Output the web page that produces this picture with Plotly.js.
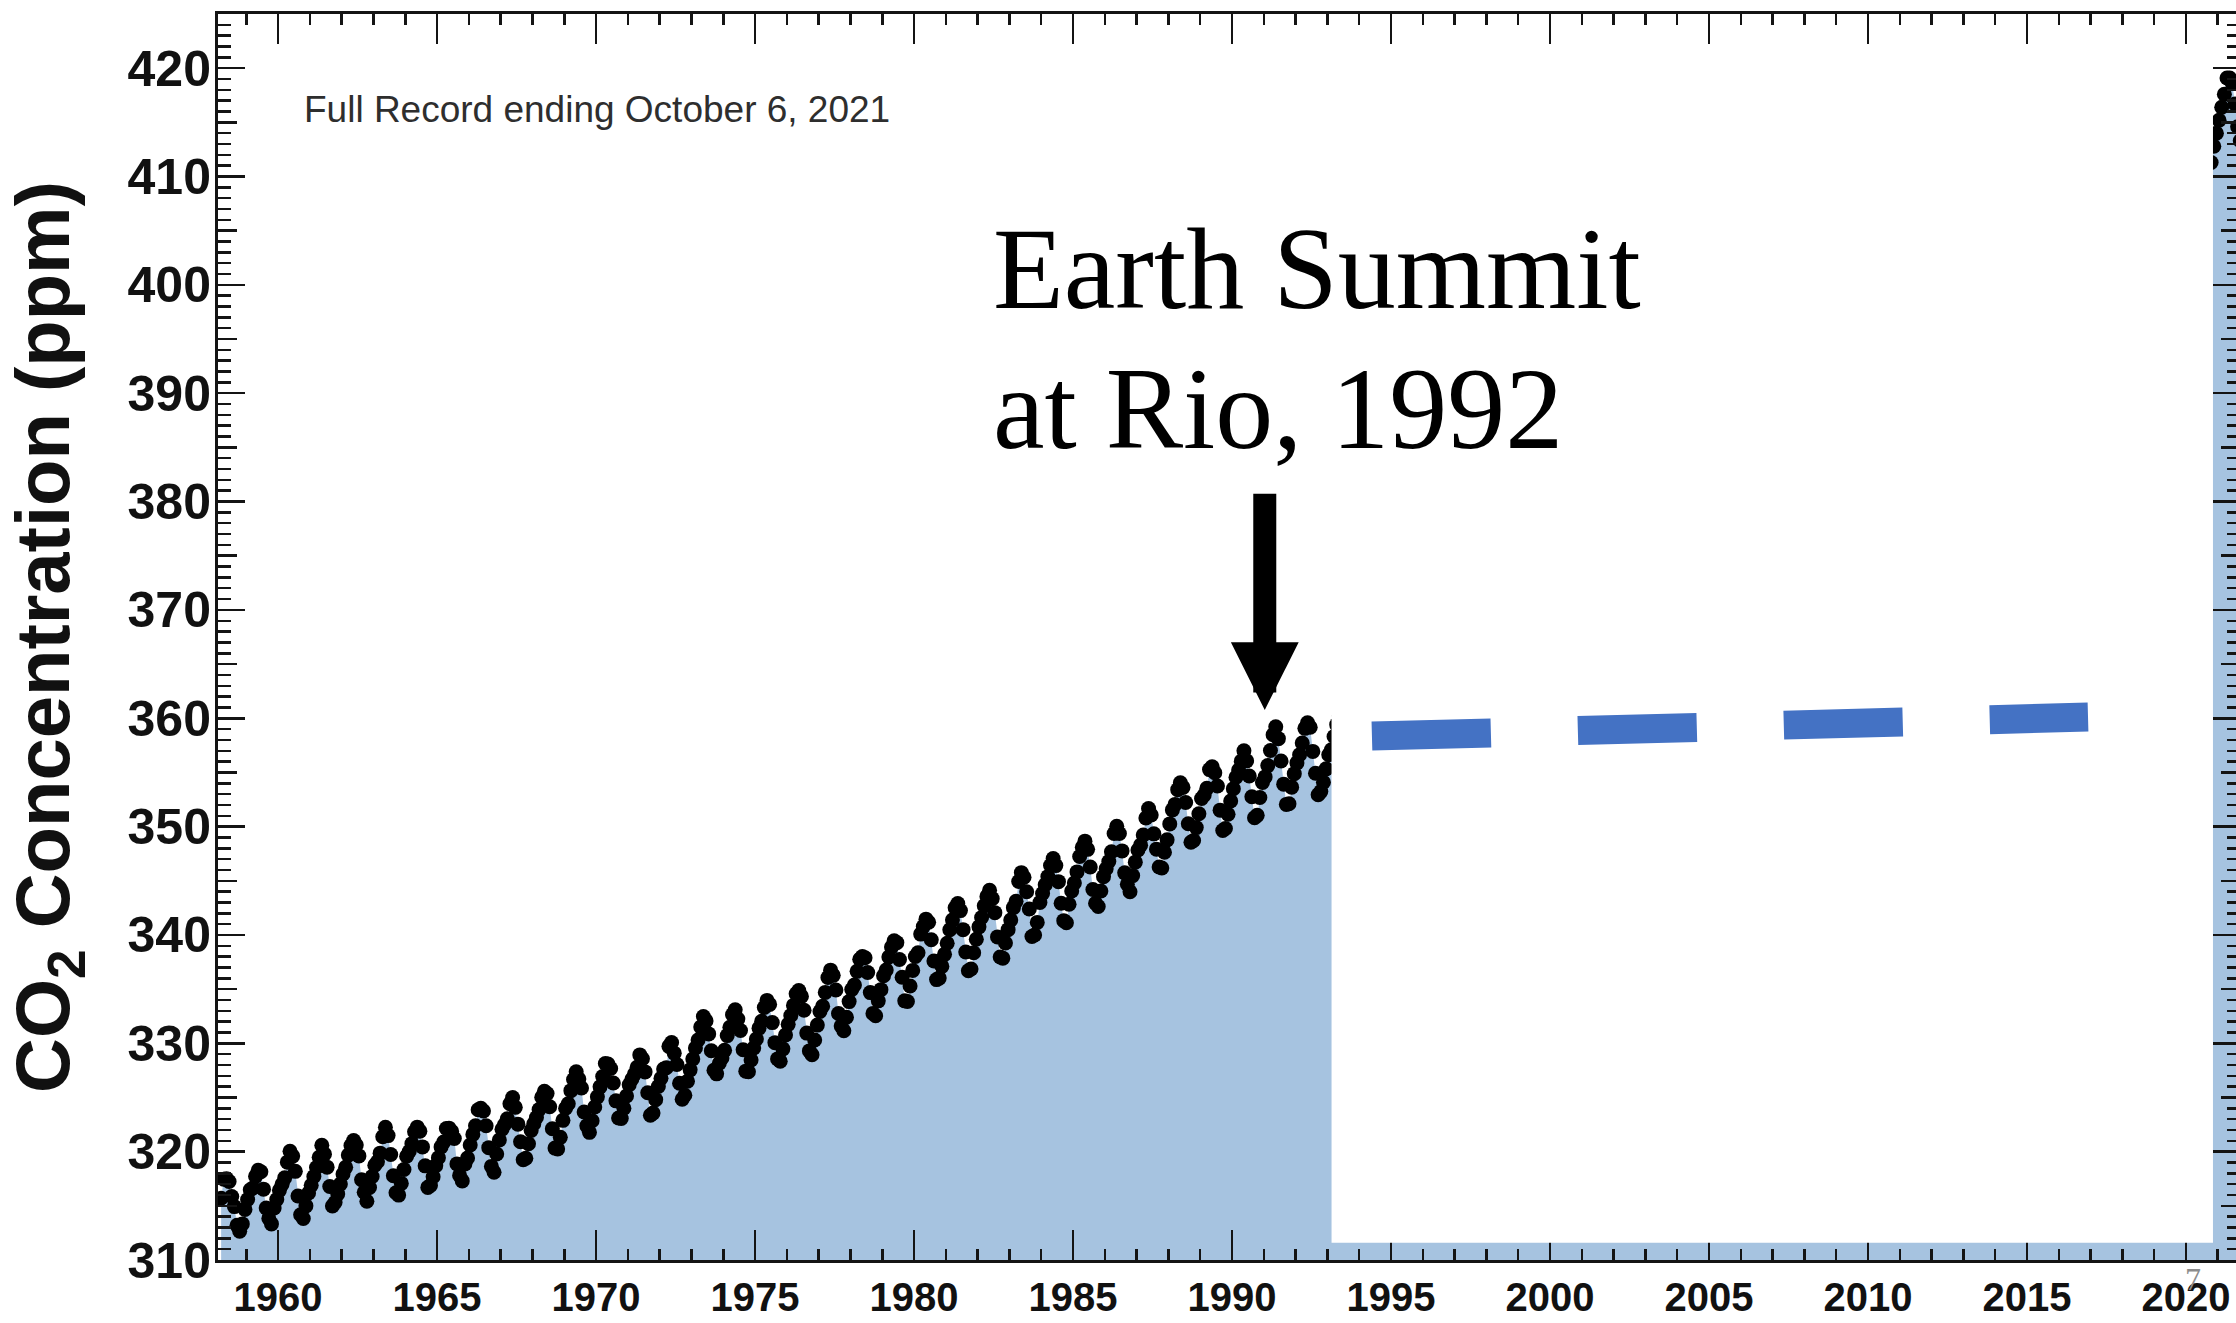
<!DOCTYPE html>
<html>
<head>
<meta charset="utf-8">
<script src="https://cdn.plot.ly/plotly-3.0.1.min.js"></script>
<style>
  html, body { margin: 0; padding: 0; background: #ffffff; overflow: hidden; width: 2236px; height: 1323px; }
  #chart { position: absolute; left: 0; top: 0; }
</style>
</head>
<body>
<div id="chart"></div>
<script>
// ---------------- DATA (Mauna Loa monthly CO2, ppm) ----------------
// visible record: March 1958 -> June 1993 (monthly)
const co2_1958_1969 = [
  315.70, 317.45, 317.51, 317.24, 315.86, 314.93, 313.20, 312.66, 313.33, 314.67,
  315.58, 316.48, 316.65, 317.72, 318.29, 318.15, 316.54, 314.80, 313.84, 313.33, 314.81, 315.58,
  316.43, 316.98, 317.58, 319.03, 320.04, 319.59, 318.18, 315.90, 314.17, 313.83, 315.00, 316.19,
  316.89, 317.70, 318.54, 319.48, 320.58, 319.77, 318.57, 316.79, 314.99, 315.31, 316.10, 317.01,
  317.94, 318.55, 319.68, 320.57, 321.02, 320.62, 319.61, 317.40, 316.25, 315.42, 316.69, 317.70,
  318.74, 319.07, 319.86, 321.38, 322.25, 321.48, 319.74, 317.77, 316.21, 315.99, 317.07, 318.35,
  319.57, 320.01, 320.74, 321.84, 322.26, 321.89, 320.44, 318.69, 316.70, 316.87, 317.68, 318.71,
  319.44, 320.44, 320.89, 322.14, 322.17, 321.87, 321.21, 318.87, 317.81, 317.30, 318.87, 319.42,
  320.62, 321.59, 322.39, 323.87, 324.01, 323.75, 322.39, 320.37, 318.64, 318.10, 319.79, 321.08,
  322.07, 322.50, 323.04, 324.42, 325.00, 324.09, 322.54, 320.92, 319.25, 319.39, 320.73, 321.96,
  322.57, 323.15, 323.89, 325.02, 325.57, 325.36, 324.14, 322.11, 320.33, 320.25, 321.32, 322.89,
  324.00, 324.42, 325.63, 326.66, 327.38, 326.71, 325.88, 323.66, 322.38, 321.78, 322.85, 324.12
];
const co2_1970_1979 = [
  325.06, 325.98, 326.93, 328.13, 328.08, 327.67, 326.34, 324.69, 323.10, 323.06, 324.01, 325.13,
  326.17, 326.68, 327.17, 327.79, 328.93, 328.57, 327.36, 325.43, 323.36, 323.56, 324.80, 326.01,
  326.77, 327.63, 327.75, 329.72, 330.07, 329.09, 328.04, 326.32, 324.84, 325.20, 326.50, 327.55,
  328.55, 329.56, 330.30, 331.50, 332.48, 332.07, 330.87, 329.31, 327.51, 327.18, 328.16, 328.64,
  329.35, 330.71, 331.48, 332.65, 333.09, 332.25, 331.18, 329.40, 327.43, 327.37, 328.46, 329.57,
  330.40, 331.40, 332.04, 333.31, 333.96, 333.59, 331.91, 330.06, 328.56, 328.34, 329.49, 330.76,
  331.75, 332.56, 333.50, 334.58, 334.88, 334.33, 333.05, 330.94, 329.30, 328.94, 330.31, 331.68,
  332.93, 333.42, 334.70, 336.07, 336.75, 336.27, 334.92, 332.75, 331.59, 331.16, 332.40, 333.85,
  334.97, 335.38, 336.64, 337.76, 338.01, 337.89, 336.54, 334.68, 332.76, 332.55, 333.92, 334.95,
  336.23, 336.76, 337.96, 338.88, 339.47, 339.29, 337.73, 336.09, 333.92, 333.86, 335.29, 336.73
];
const co2_1980_1989 = [
  338.01, 338.36, 340.08, 340.77, 341.46, 341.17, 339.56, 337.60, 335.88, 336.02, 337.10, 338.21,
  339.24, 340.48, 341.38, 342.51, 342.91, 342.25, 340.49, 338.43, 336.69, 336.86, 338.36, 339.61,
  340.75, 341.61, 342.70, 343.56, 344.13, 343.35, 342.06, 339.82, 337.97, 337.86, 339.26, 340.49,
  341.38, 342.52, 343.10, 344.94, 345.75, 345.32, 343.99, 342.39, 339.86, 339.99, 341.16, 342.99,
  343.82, 344.63, 345.38, 346.41, 347.06, 346.40, 344.92, 342.93, 341.32, 341.12, 342.83, 344.06,
  344.80, 345.82, 347.24, 348.09, 348.66, 347.90, 346.27, 344.19, 342.92, 342.62, 344.06, 345.38,
  346.11, 346.78, 347.68, 349.37, 350.03, 349.37, 347.76, 345.73, 344.68, 343.99, 345.48, 346.72,
  347.84, 348.29, 349.23, 350.80, 351.66, 351.07, 349.33, 347.92, 346.27, 346.18, 347.64, 348.78,
  350.25, 351.54, 352.05, 353.41, 354.04, 353.62, 352.22, 350.27, 348.55, 348.72, 349.91, 351.18,
  352.60, 352.92, 353.53, 355.26, 355.52, 354.97, 353.75, 351.52, 349.64, 349.83, 351.14, 352.37
];
const co2_1990_1993 = [
  353.50, 354.55, 355.23, 356.04, 357.00, 356.07, 354.67, 352.76, 350.82, 351.04, 352.69, 354.07,
  354.59, 355.63, 357.03, 358.48, 359.22, 358.12, 356.06, 353.92, 352.05, 352.11, 353.64, 354.89,
  355.88, 356.63, 357.72, 359.07, 359.58, 359.17, 356.94, 354.92, 352.94, 353.23, 354.09, 355.33,
  356.63, 357.10, 358.32, 359.41, 360.23, 359.55
];
// record hidden behind the white panel (annual means, 1994 -> 2019)
const hiddenYears = [1994, 1995, 1996, 1997, 1998, 1999, 2000, 2001, 2002, 2003, 2004, 2005, 2006,
                     2007, 2008, 2009, 2010, 2011, 2012, 2013, 2014, 2015, 2016, 2017, 2018, 2019];
const co2Hidden = [358.96, 360.97, 362.74, 363.88, 366.84, 368.54, 369.71, 371.32, 373.45, 375.98,
                   377.70, 379.98, 382.09, 384.02, 385.83, 387.64, 390.10, 391.85, 394.06, 396.74,
                   398.81, 401.01, 404.41, 406.76, 408.72, 411.66];
// right-hand sliver: July 2020 -> September 2021 (monthly)
const co2_2020_2021 = [414.4, 412.5, 411.3, 411.3, 412.8, 414.0,
                       415.2, 416.4, 417.6, 419.1, 419.1, 418.6, 416.7, 414.6, 413.3];

// "Rio" projection (blue dashed line)
const projYears = [1994.40, 2016.92];
const projCO2 = [358.36, 360.11];

// panel that blanks 1993-2020
const panelYears = [1993.13, 2020.85];
const panelCO2 = [311.6, 421.5];

// arrow: tip and tail
const arrowYear = 1991.03;
const arrowTipCO2 = 360.76;
const arrowTailCO2 = 380.87;

const yTickVals = [310, 320, 330, 340, 350, 360, 370, 380, 390, 400, 410, 420];
const yMidTickVals = [315, 325, 335, 345, 355, 365, 375, 385, 395, 405, 415];
const xTickVals = [1960, 1965, 1970, 1975, 1980, 1985, 1990, 1995, 2000, 2005, 2010, 2015, 2020];

// ---------------- helpers: month index -> decimal year ----------------
function monthlyX(startYear, startMonth, count) {
  const xs = [];
  for (let i = 0; i < count; i++) {
    const m = startMonth - 1 + i;
    xs.push(startYear + Math.floor(m / 12) + ((m % 12) + 0.5) / 12);
  }
  return xs;
}

const earlyY = [].concat(co2_1958_1969, co2_1970_1979, co2_1980_1989, co2_1990_1993);
const earlyX = monthlyX(1958, 3, earlyY.length);
const lateY = co2_2020_2021;
const lateX = monthlyX(2020, 7, lateY.length);
const hiddenX = hiddenYears.map(y => y + 0.5);

const fillX = [].concat(earlyX, hiddenX, lateX);
const fillY = [].concat(earlyY, co2Hidden, lateY);

const AXIS = '#141414';
const tickFontFamily = '"Liberation Sans", Arial, sans-serif';

const traces = [
  { // light blue area under the record
    x: fillX, y: fillY, type: 'scatter', mode: 'lines',
    line: { width: 0, color: '#A6C3E0' },
    fill: 'tozeroy', fillcolor: '#A6C3E0', hoverinfo: 'skip'
  },
  { // monthly dots
    x: earlyX.concat([null], lateX), y: earlyY.concat([null], lateY),
    type: 'scatter', mode: 'markers',
    marker: { size: 15, color: '#000000', line: { width: 0 } }
  },
  { // carrier for the 5-ppm intermediate tick axis (draws nothing)
    x: [], y: [], type: 'scatter', mode: 'markers', yaxis: 'y2', hoverinfo: 'skip'
  }
];

const layout = {
  width: 2245, height: 1323,
  margin: { l: 218, r: 5, t: 14, b: 63, pad: 0 },
  paper_bgcolor: '#ffffff', plot_bgcolor: '#ffffff',
  showlegend: false,
  font: { family: '"Liberation Sans", Arial, sans-serif', color: '#111111' },
  xaxis: {
    range: [1958.11, 2021.7],
    tickmode: 'array', tickvals: xTickVals, ticktext: xTickVals.map(String),
    ticks: 'inside', ticklen: 30, tickwidth: 2.5, tickcolor: AXIS,
    minor: { dtick: 1, tick0: 1960, ticks: 'inside', ticklen: 11, tickwidth: 2.5, tickcolor: AXIS, showgrid: false },
    showline: true, linewidth: 3, linecolor: AXIS, mirror: 'ticks',
    showgrid: false, zeroline: false,
    tickfont: { family: tickFontFamily, size: 40, weight: 'bold', color: '#111111' }
  },
  yaxis: {
    range: [310, 425],
    tickmode: 'array', tickvals: yTickVals, ticktext: yTickVals.map(String),
    ticks: 'inside', ticklen: 27, tickwidth: 2.5, tickcolor: AXIS,
    minor: { dtick: 1, tick0: 310, ticks: 'inside', ticklen: 13, tickwidth: 2.5, tickcolor: AXIS, showgrid: false },
    showline: true, linewidth: 3, linecolor: AXIS, mirror: 'ticks',
    showgrid: false, zeroline: false,
    ticklabelstandoff: -6,
    tickfont: { family: tickFontFamily, size: 50, weight: 'bold', color: '#111111' },
    title: {
      text: 'CO<sub>2</sub> Concentration (ppm)',
      font: { family: '"Liberation Sans", Arial, sans-serif', size: 76, weight: 'bold', color: '#111111' }
    }
  },
  yaxis2: {
    overlaying: 'y', side: 'left', range: [310, 425],
    tickmode: 'array', tickvals: yMidTickVals,
    ticks: 'inside', ticklen: 19, tickwidth: 2.5, tickcolor: AXIS,
    showticklabels: false, showline: false, mirror: 'ticks',
    showgrid: false, zeroline: false
  },
  shapes: [
    { type: 'rect', xref: 'x', yref: 'y', layer: 'above',
      x0: panelYears[0], x1: panelYears[1], y0: panelCO2[0], y1: panelCO2[1],
      fillcolor: '#ffffff', line: { width: 0 } },
    { type: 'line', xref: 'x', yref: 'y', layer: 'above',
      x0: projYears[0], x1: projYears[1], y0: projCO2[0], y1: projCO2[1],
      line: { color: '#4472C4', width: 29, dash: '119px,87px' } }
  ],
  annotations: [
    { x: 1960.75, y: 416.2, xref: 'x', yref: 'y', xanchor: 'left', yanchor: 'middle',
      text: 'Full Record ending October 6, 2021', showarrow: false,
      font: { family: '"Liberation Sans", Arial, sans-serif', size: 37, color: '#2e2e2e' } },
    { x: 1982.42, y: 401.45, xref: 'x', yref: 'y', xanchor: 'left', yanchor: 'middle',
      text: 'Earth Summit', showarrow: false,
      font: { family: '"Liberation Serif", "Times New Roman", serif', size: 116, color: '#000000' } },
    { x: 1982.42, y: 388.53, xref: 'x', yref: 'y', xanchor: 'left', yanchor: 'middle',
      text: 'at Rio, 1992', showarrow: false,
      font: { family: '"Liberation Serif", "Times New Roman", serif', size: 116, color: '#000000' } },
    { x: arrowYear, y: arrowTipCO2, xref: 'x', yref: 'y',
      ax: arrowYear, ay: arrowTailCO2, axref: 'x', ayref: 'y',
      text: '', showarrow: true, arrowhead: 2, arrowsize: 0.59, arrowwidth: 23,
      arrowcolor: '#000000', standoff: 0, startstandoff: 0 },
    { x: 2020.22, y: -0.0152, xref: 'x', yref: 'paper', xanchor: 'center', yanchor: 'middle',
      text: '7', showarrow: false,
      font: { family: '"Liberation Serif", "Times New Roman", serif', size: 32, color: '#8c8c8c' } }
  ]
};

Plotly.newPlot('chart', traces, layout, { displayModeBar: false, staticPlot: true });
</script>
</body>
</html>
